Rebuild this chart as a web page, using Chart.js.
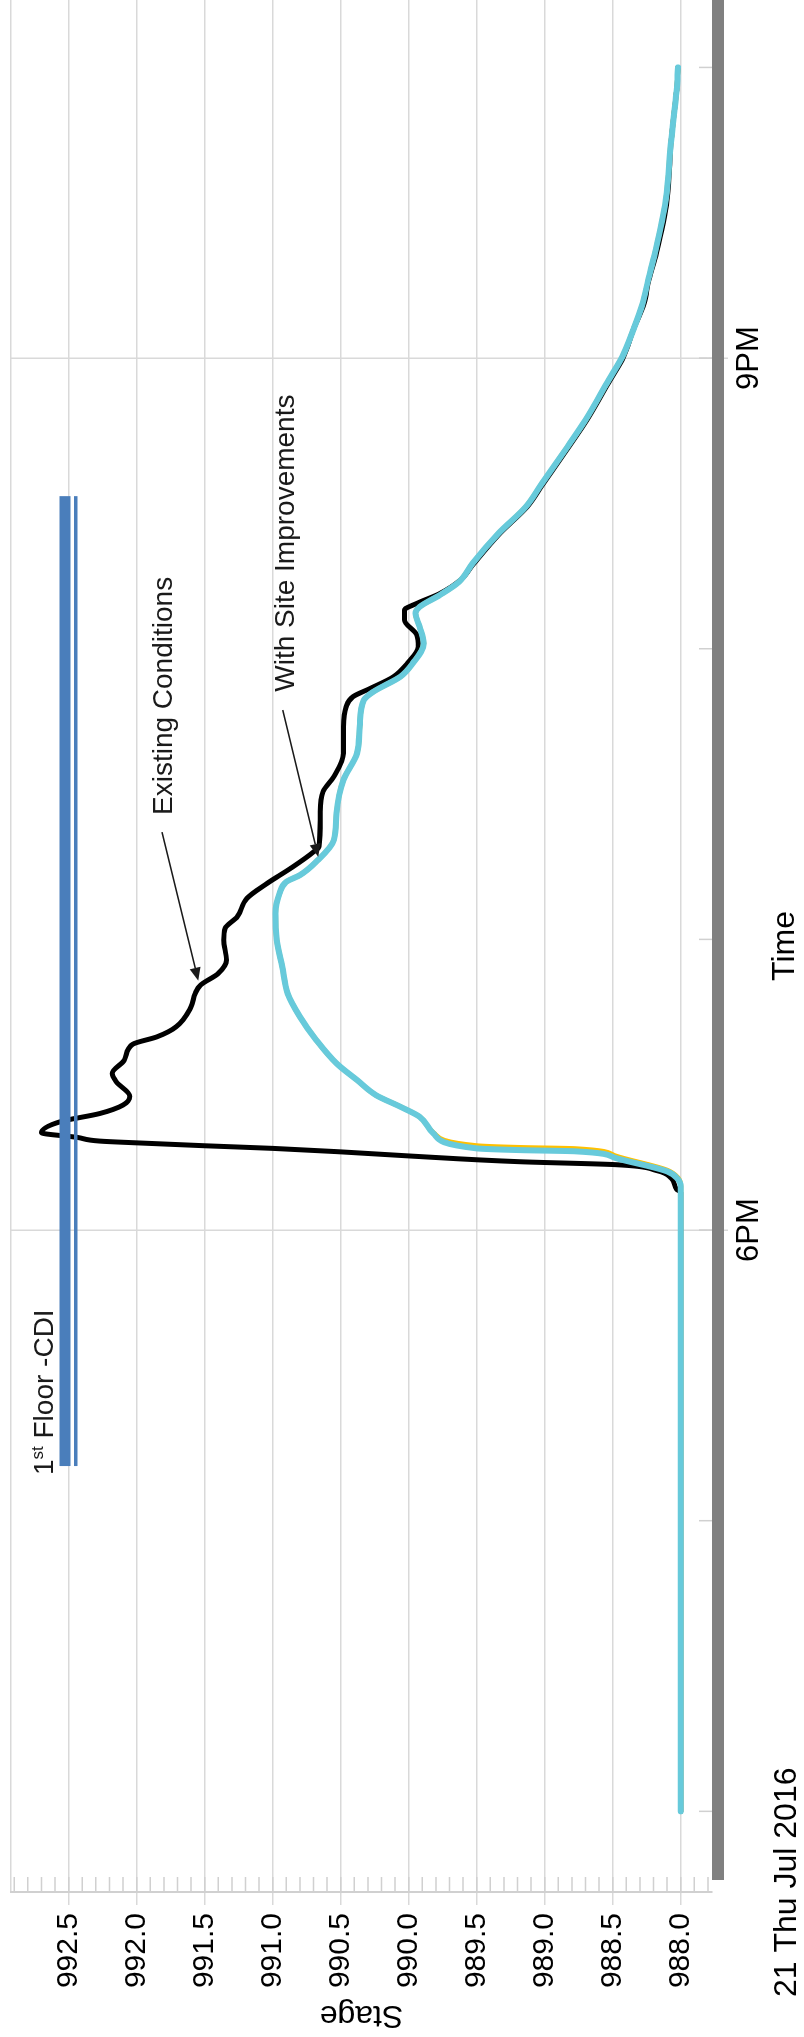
<!DOCTYPE html>
<html>
<head>
<meta charset="utf-8">
<title>Stage hydrograph</title>
<script src="https://cdn.jsdelivr.net/npm/chart.js@4.4.1/dist/chart.umd.min.js"></script>
<style>
  html, body { margin: 0; padding: 0; background: #fff; overflow: hidden; }
  /* the landscape chart is turned a quarter turn counter-clockwise onto the tall page */
  #wrap {
    position: absolute; left: 0; top: 0;
    width: 2037px; height: 804px;
    transform-origin: 0 0;
    transform: translate(0, 2037px) rotate(-90deg);
  }
  canvas { display: block; }
</style>
</head>
<body>
<div id="wrap"><canvas id="stageChart" width="2037" height="804"></canvas></div>
<script>
// ---- Data (time in decimal hours of 21 Jul 2016, stage in ft) ----
const existingHours = [16.00, 18.13, 18.14, 18.179, 18.205, 18.225, 18.235, 18.255, 18.269, 18.281, 18.29, 18.30, 18.306, 18.319, 18.335, 18.373, 18.401, 18.43, 18.46, 18.51, 18.539, 18.585, 18.639, 18.665, 18.699, 18.768, 18.814, 18.843, 18.883, 18.929, 18.998, 19.038, 19.078, 19.141, 19.193, 19.244, 19.301, 19.319, 19.434, 19.508, 19.56, 19.64, 19.732, 19.80, 19.835, 19.864, 19.904, 19.95, 20.007, 20.047, 20.099, 20.133, 20.156, 20.19, 20.236, 20.294, 20.397, 20.488, 20.569, 20.683, 20.787, 20.924, 21.004, 21.096, 21.188, 21.268, 21.36, 21.544, 21.75, 21.922, 22.0];
const existingStage = [988.00, 988.00, 988.03, 988.07, 988.18, 988.48, 989.18, 990.00, 990.50, 991.00, 991.50, 992.00, 992.27, 992.44, 992.70, 992.56, 992.27, 992.10, 992.05, 992.15, 992.18, 992.09, 992.03, 991.85, 991.71, 991.60, 991.57, 991.53, 991.40, 991.34, 991.36, 991.35, 991.26, 991.19, 991.04, 990.87, 990.70, 990.66, 990.65, 990.63, 990.55, 990.48, 990.48, 990.46, 990.41, 990.28, 990.11, 990.01, 989.93, 989.94, 990.03, 990.03, 989.94, 989.77, 989.62, 989.52, 989.33, 989.13, 989.01, 988.84, 988.69, 988.52, 988.42, 988.35, 988.27, 988.235, 988.18, 988.10, 988.07, 988.03, 988.02];

const improvedHours = [16.00, 18.150, 18.175, 18.202, 18.248, 18.271, 18.275, 18.281, 18.333, 18.390, 18.424, 18.464, 18.516, 18.573, 18.654, 18.734, 18.814, 18.906, 18.998, 19.090, 19.158, 19.198, 19.221, 19.267, 19.342, 19.434, 19.548, 19.640, 19.732, 19.823, 19.852, 19.904, 19.950, 20.018, 20.076, 20.122, 20.144, 20.185, 20.230, 20.294, 20.397, 20.488, 20.569, 20.683, 20.787, 20.924, 21.004, 21.096, 21.188, 21.268, 21.360, 21.544, 21.750, 21.922, 22.000];
const improvedStage = [988.00, 988.00, 988.02, 988.10, 988.48, 988.78, 989.18, 989.50, 989.82, 989.92, 990.06, 990.24, 990.38, 990.53, 990.68, 990.80, 990.89, 990.93, 990.97, 990.98, 990.95, 990.90, 990.80, 990.68, 990.55, 990.53, 990.48, 990.38, 990.36, 990.33, 990.26, 990.06, 989.97, 989.89, 989.92, 989.95, 989.92, 989.77, 989.63, 989.53, 989.34, 989.14, 989.02, 988.85, 988.70, 988.53, 988.43, 988.35, 988.28, 988.24, 988.19, 988.11, 988.07, 988.03, 988.02];

const altHours = [16.00, 18.152, 18.180, 18.206, 18.255, 18.280, 18.284, 18.290, 18.336, 18.390, 18.424, 18.464, 18.516, 18.573, 18.654, 18.734, 18.814, 18.906, 18.998, 19.090, 19.158, 19.198, 19.221, 19.267, 19.342, 19.434, 19.548, 19.640, 19.732, 19.823, 19.852, 19.904, 19.950, 20.018, 20.076, 20.122, 20.144, 20.185, 20.230, 20.294, 20.397, 20.488, 20.569, 20.683, 20.787, 20.924, 21.004, 21.096, 21.188, 21.268, 21.360, 21.544, 21.750, 21.922, 22.000];
const altStage = [988.00, 988.00, 988.02, 988.10, 988.48, 988.78, 989.18, 989.50, 989.82, 989.92, 990.06, 990.24, 990.38, 990.53, 990.68, 990.80, 990.89, 990.93, 990.97, 990.98, 990.95, 990.90, 990.80, 990.68, 990.55, 990.53, 990.48, 990.38, 990.36, 990.33, 990.26, 990.06, 989.97, 989.89, 989.92, 989.95, 989.92, 989.77, 989.63, 989.53, 989.34, 989.14, 989.02, 988.85, 988.70, 988.53, 988.43, 988.35, 988.28, 988.24, 988.19, 988.11, 988.07, 988.03, 988.02];

// first-floor elevation band
const floorHours = [17.188, 20.525];
const floorStageUpper = [992.527, 992.527];
const floorStageLower = [992.448, 992.448];

// axes
const timeTicks = [16, 17, 18, 19, 20, 21, 22];
const timeLabels = { 18: '6PM', 21: '9PM' };
const stageTicks = [988.0, 988.5, 989.0, 989.5, 990.0, 990.5, 991.0, 991.5, 992.0, 992.5];
const timeRange = [15.7225, 22.232];
const stageRange = [987.770, 992.924];
const dateLabel = '21 Thu Jul 2016';

const minorStageTicks = [];
for (let k = 9878; k <= 9929; k++) minorStageTicks.push(k / 10);

const FONT = "'Liberation Sans', Arial, Helvetica, sans-serif";
Chart.defaults.font.family = FONT;
Chart.defaults.color = '#000';

const pts = (hs, vs) => hs.map((h, i) => ({ x: h, y: vs[i] }));
const GRID = '#D9D9D9';
const NONE = 'rgba(0,0,0,0)';

function arrow(ctx, x0, y0, x1, y1) {
  const ang = Math.atan2(y1 - y0, x1 - x0), L = 13, W = 5.5;
  const bx = x1 - L * Math.cos(ang), by = y1 - L * Math.sin(ang);
  ctx.beginPath(); ctx.moveTo(x0, y0); ctx.lineTo(bx, by); ctx.stroke();
  ctx.beginPath();
  ctx.moveTo(x1, y1);
  ctx.lineTo(bx + W * Math.sin(ang), by - W * Math.cos(ang));
  ctx.lineTo(bx - W * Math.sin(ang), by + W * Math.cos(ang));
  ctx.closePath(); ctx.fill();
}

const decor = {
  id: 'decor',
  beforeDatasetsDraw(chart) {
    const { ctx, chartArea: a, scales: { x, y } } = chart;
    ctx.save();
    ctx.strokeStyle = '#D0D0D0';
    ctx.lineWidth = 1.5;
    ctx.beginPath();
    minorStageTicks.forEach(v => {
      const py = y.getPixelForValue(v);
      ctx.moveTo(a.left, py); ctx.lineTo(a.left + 15, py);
    });
    timeTicks.forEach(h => {
      const px = x.getPixelForValue(h);
      ctx.moveTo(px, a.bottom); ctx.lineTo(px, a.bottom - 13);
    });
    ctx.stroke();
    ctx.restore();
  },
  afterDatasetsDraw(chart) {
    const { ctx, chartArea: a, scales: { x, y } } = chart;
    ctx.save();
    // time axis bar
    ctx.fillStyle = '#808080';
    ctx.fillRect(a.left + 12, a.bottom, a.right - a.left - 12, 12);

    // annotations
    ctx.fillStyle = '#1a1a1a';
    ctx.strokeStyle = '#1a1a1a';
    ctx.lineWidth = 1.5;
    ctx.textBaseline = 'alphabetic';
    ctx.textAlign = 'left';
    ctx.font = '28px ' + FONT;
    ctx.fillText('Existing Conditions', x.getPixelForValue(19.428), y.getPixelForValue(991.740));
    arrow(ctx, x.getPixelForValue(19.369), y.getPixelForValue(991.814),
               x.getPixelForValue(18.858), y.getPixelForValue(991.547));
    ctx.fillText('With Site Improvements', x.getPixelForValue(19.852), y.getPixelForValue(990.843));
    arrow(ctx, x.getPixelForValue(19.789), y.getPixelForValue(990.926),
               x.getPixelForValue(19.284), y.getPixelForValue(990.665));

    // first-floor label with superscript
    let fx = x.getPixelForValue(17.157);
    const fy = y.getPixelForValue(992.615);
    ctx.font = '28px ' + FONT;
    ctx.fillText('1', fx, fy); fx += ctx.measureText('1').width;
    ctx.font = '17px ' + FONT;
    ctx.fillText('st', fx, fy - 10); fx += ctx.measureText('st').width;
    ctx.font = '28px ' + FONT;
    ctx.fillText(' Floor -CDI', fx, fy);

    // date under the time axis
    ctx.fillStyle = '#000';
    ctx.font = '32px ' + FONT;
    ctx.fillText(dateLabel, 40, 796);
    ctx.restore();
  }
};

const seriesStyle = { pointRadius: 0, borderJoinStyle: 'round', borderCapStyle: 'round', cubicInterpolationMode: 'monotone' };

new Chart(document.getElementById('stageChart'), {
  type: 'line',
  data: {
    datasets: [
      { label: '1st Floor -CDI', data: pts(floorHours, floorStageUpper), borderColor: '#4A7EBB', borderWidth: 11, borderCapStyle: 'butt', pointRadius: 0, tension: 0 },
      { label: '1st Floor -CDI lower', data: pts(floorHours, floorStageLower), borderColor: '#4A7EBB', borderWidth: 3.5, borderCapStyle: 'butt', pointRadius: 0, tension: 0 },
      Object.assign({ label: 'With Site Improvements', data: pts(improvedHours, improvedStage), borderColor: '#67CADB', borderWidth: 6 }, seriesStyle),
      Object.assign({ label: 'Alternative', data: pts(altHours, altStage), borderColor: '#FFC000', borderWidth: 5 }, seriesStyle),
      Object.assign({ label: 'Existing Conditions', data: pts(existingHours, existingStage), borderColor: '#000000', borderWidth: 5 }, seriesStyle)
    ]
  },
  options: {
    responsive: false,
    animation: false,
    events: [],
    layout: { padding: { top: 11, left: 0, right: 0, bottom: 0 } },
    plugins: { legend: { display: false }, tooltip: { enabled: false } },
    scales: {
      x: {
        type: 'linear',
        position: 'bottom',
        min: timeRange[0],
        max: timeRange[1],
        afterBuildTicks: s => { s.ticks = timeTicks.map(v => ({ value: v })); },
        afterFit: s => { s.height = 92; s.paddingLeft = 0; s.paddingRight = 0; },
        ticks: {
          callback: v => timeLabels[v] || '',
          font: { size: 31 },
          padding: 3,
          minRotation: 0, maxRotation: 0,
          autoSkip: false,
          color: '#000'
        },
        grid: {
          color: c => (c.tick && timeLabels[c.tick.value]) ? GRID : NONE,
          tickColor: c => (c.tick && timeLabels[c.tick.value]) ? GRID : NONE,
          lineWidth: 1.5,
          tickLength: 16
        },
        border: { display: false },
        title: { display: true, text: 'Time', font: { size: 32 }, padding: { top: 0, bottom: 0 }, color: '#000' }
      },
      y: {
        type: 'linear',
        position: 'left',
        min: stageRange[0],
        max: stageRange[1],
        afterBuildTicks: s => { s.ticks = stageTicks.map(v => ({ value: v })).concat([{ value: stageRange[1] }]); },
        afterFit: s => { s.width = 145; s.paddingTop = 0; s.paddingBottom = 0; },
        ticks: {
          callback: v => stageTicks.includes(v) ? v.toFixed(1) : '',
          font: { size: 30 },
          padding: 8,
          autoSkip: false,
          color: '#000'
        },
        grid: {
          color: GRID,
          tickColor: c => (c.tick && stageTicks.includes(c.tick.value)) ? GRID : NONE,
          lineWidth: 1.5,
          tickLength: 13
        },
        border: { display: true, color: '#D0D0D0', width: 2 },
        title: { display: true, text: 'Stage', font: { size: 32 }, padding: { top: 3, bottom: 0 }, color: '#000' }
      }
    }
  },
  plugins: [decor]
});
</script>
</body>
</html>
